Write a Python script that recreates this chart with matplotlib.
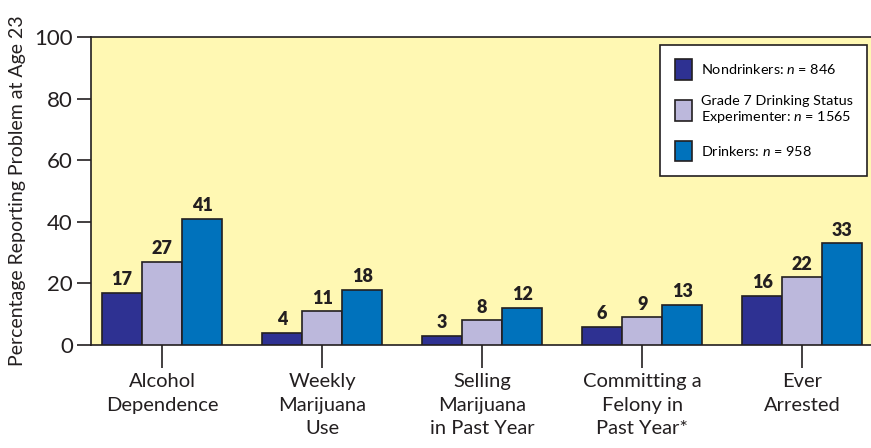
import numpy as np
import matplotlib.pyplot as plt

# --------------------------------
# data
# --------------------------------
categories = ["Alcohol\nDependence", "Weekly\nMarijuana\nUse", "Selling\nMarijuana\nin Past Year",
              "Committing a\nFelony in\nPast Year*", "Ever\nArrested"]
nondrinkers = [17, 4, 3, 6, 16]
experimenters = [27, 11, 8, 9, 22]
drinkers = [41, 18, 12, 13, 33]
series_labels = ["Nondrinkers: $n$ = 846",
                 "Grade 7 Drinking Status\nExperimenter: $n$ = 1565",
                 "Drinkers: $n$ = 958"]
yticks = [0, 20, 40, 60, 80, 100]

colors = ["#2E3192", "#BCB8DC", "#0072BC"]
plt.rcParams["font.family"] = ["Lato", "DejaVu Sans"]
plt.rcParams["mathtext.fontset"] = "custom"
plt.rcParams["mathtext.it"] = "Lato:italic"
plt.rcParams["mathtext.rm"] = "Lato"

fig = plt.figure(figsize=(8.71, 4.48), dpi=100)
ax = fig.add_axes([0.1045, 0.2299, 0.8955, 0.6875])
ax.set_facecolor("#FFF8B3")

x = np.arange(len(categories))
w = 0.25
for i, vals in enumerate([nondrinkers, experimenters, drinkers]):
    pos = x + (i - 1) * w
    ax.bar(pos, vals, width=w, color=colors[i], edgecolor="#231F20",
           linewidth=1.2, label=series_labels[i], zorder=3)
    for xp, v in zip(pos, vals):
        ax.text(xp, v + 1.5, str(v), ha="center", va="bottom", fontsize=13,
                fontweight="heavy", color="#231F20")

ax.set_xlim(-0.444, 4.43)
ax.set_ylim(0, 100)
ax.set_yticks(yticks)
ax.set_xticks(x)
ax.set_xticklabels(categories, fontsize=14.5, linespacing=1.45, color="#231F20")
ax.tick_params(axis="x", length=16.5, width=1.2, direction="out", pad=4, color="#231F20")
ax.tick_params(axis="y", length=10, width=1.2, labelsize=16, pad=3, color="#231F20",
               labelcolor="#231F20")
ax.set_ylabel("Percentage Reporting Problem at Age 23", fontsize=14, color="#231F20",
              labelpad=6)
for s in ["left", "top", "bottom"]:
    ax.spines[s].set_linewidth(1.2)
    ax.spines[s].set_color("#231F20")
ax.spines["right"].set_visible(False)

leg = ax.legend(loc="upper right", bbox_to_anchor=(0.995, 0.974), fontsize=10.4,
                frameon=True, fancybox=False, edgecolor="#231F20",
                handlelength=1.2, handleheight=1.8, labelspacing=1.05,
                borderpad=1.0, handletextpad=0.6, borderaxespad=0)
leg.get_frame().set_linewidth(1.2)
leg.get_frame().set_alpha(1)

plt.savefig("out.png", dpi=100)
